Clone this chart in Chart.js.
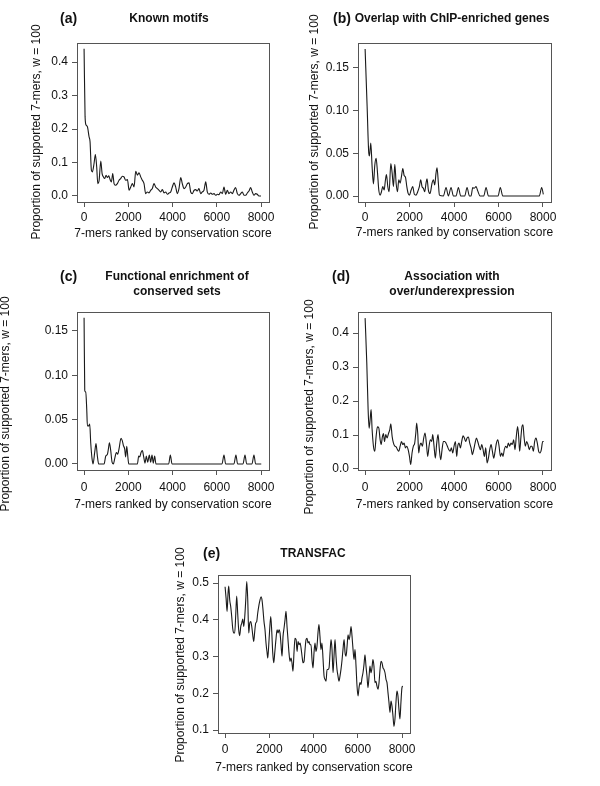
<!DOCTYPE html>
<html>
<head>
<meta charset="utf-8">
<script src="https://cdn.jsdelivr.net/npm/chart.js@4"></script>
<style>
  body { margin: 0; background: #fff; }
  #page { position: relative; width: 600px; height: 786px; overflow: hidden; }
  #page canvas { position: absolute; }
</style>
</head>
<body>
<div id="page"></div>
<script>
const xLabel = '7-mers ranked by conservation score';
const yLabel = 'Proportion of supported 7-mers, w = 100';
const rankTicks = [0, 2000, 4000, 6000, 8000];

// (a) Known motifs
const knownRank = [0,45,90,150,225,270,330,375,450,510,570,620,680,755,815,875,935,995,1055,1115,1175,1235,1295,1355,1415,1505,1580,1655,1730,1805,1880,1960,2035,2110,2185,2260,2335,2410,2485,2560,2635,2710,2785,2860,2935,3010,3085,3160,3235,3310,3390,3465,3540,3615,3690,3765,3840,3915,3990,4065,4140,4215,4290,4370,4440,4520,4595,4670,4745,4820,4895,4970,5045,5120,5195,5270,5345,5420,5500,5570,5650,5725,5800,5875,5950,6025,6100,6175,6250,6325,6400,6475,6550,6625,6700,6775,6850,6930,7005,7080,7155,7230,7305,7380,7455,7530,7605,7680,7755,7830,7905,8000];
const knownProp = [0.44,0.237,0.212,0.207,0.177,0.162,0.077,0.072,0.097,0.124,0.087,0.037,0.047,0.104,0.067,0.057,0.052,0.062,0.055,0.06,0.049,0.042,0.067,0.037,0.032,0.037,0.047,0.052,0.059,0.057,0.047,0.049,0.017,0.027,0.037,0.027,0.074,0.062,0.069,0.057,0.047,0.037,0.007,0.012,0.009,0.017,0.022,0.037,0.027,0.022,0.017,0.012,0.019,0.009,0.012,0.005,0.009,0.012,0.027,0.039,0.027,0.007,0.022,0.055,0.037,0.022,0.027,0.037,0.039,0.012,0.007,0.017,0.019,0.015,0.022,0.007,0.012,0.017,0.042,0.012,0.005,0.009,0.005,0.007,0.002,0.005,0.004,0.012,0.007,0.027,0.005,0.017,0.007,0.012,0.007,0.017,0.025,0.007,0.002,0.007,0.012,0.002,0.002,0.009,0.015,0.025,0.012,0.002,0.007,0.005,0,0];
const knownTicks = [0, 0.1, 0.2, 0.3, 0.4];

// (b) Overlap with ChIP-enriched genes
const chipRank = [0,90,165,195,255,315,375,435,495,555,615,675,735,795,855,915,960,1020,1080,1155,1215,1275,1335,1395,1455,1515,1575,1635,1695,1755,1815,1875,1935,1990,2070,2140,2215,2290,2365,2440,2500,2560,2620,2680,2740,2785,2845,2920,3010,3070,3130,3190,3235,3295,3340,3520,3640,3745,3865,3970,4090,4195,4300,4480,4585,4690,4765,4840,4900,4990,5065,5170,5335,5440,5545,5980,6080,6190,7835,7940,8015];
const chipProp = [0.172,0.105,0.05,0.047,0.062,0.034,0.014,0.036,0.044,0.028,0.007,0.001,0.005,0.011,0.007,0.019,0.025,0.011,0.005,0.038,0.027,0.011,0.037,0.015,0.005,0.019,0.015,0.023,0.032,0.024,0.022,0.011,0.003,0.001,0.007,0.011,0.002,0.001,0.005,0.011,0.019,0.011,0.009,0.005,0.015,0.02,0.007,0.003,0.015,0.019,0.013,0.027,0.033,0.015,0.001,0,0.01,0,0.01,0,0,0.01,0,0,0.01,0,0,0.01,0.009,0.011,0.006,0,0,0.01,0,0,0.01,0,0,0.01,0.002];
const chipTicks = [0, 0.05, 0.10, 0.15];

// (c) Functional enrichment of conserved sets
const funcRank = [0,30,75,120,150,210,255,300,360,405,480,540,600,660,905,980,1055,1100,1145,1205,1265,1325,1385,1460,1520,1580,1670,1730,1775,1835,1880,1930,1975,2020,2410,2470,2515,2575,2635,2695,2755,2815,2875,2950,3010,3070,3130,3190,3250,3825,3900,3975,6235,6325,6400,6775,6865,6940,7185,7275,7350,7590,7680,7755,8010];
const funcProp = [0.165,0.083,0.081,0.062,0.043,0.043,0.045,0.024,0.006,0,0.013,0.023,0.009,0,0,0.009,0.011,0.017,0.024,0.015,0.002,0,0.006,0.013,0.011,0.017,0.029,0.026,0.021,0.017,0.008,0.02,0.009,0,0,0.009,0.008,0.013,0.015,0.008,0.001,0.009,0.002,0.01,0.002,0.01,0.001,0.009,0,0,0.01,0,0,0.01,0,0,0.01,0,0,0.01,0,0,0.01,0,0];
const funcTicks = [0, 0.05, 0.10, 0.15];

// (d) Association with over/underexpression
const exprRank = [0,75,135,180,225,270,315,375,435,495,555,615,675,720,780,825,870,930,990,1050,1110,1155,1215,1275,1335,1395,1455,1515,1575,1635,1695,1755,1815,1875,1935,1995,2050,2110,2170,2230,2280,2320,2370,2410,2455,2515,2575,2635,2695,2755,2815,2875,2935,2995,3040,3100,3160,3220,3280,3340,3400,3460,3520,3580,3640,3700,3760,3820,3880,3940,4000,4060,4120,4165,4225,4285,4345,4405,4465,4525,4585,4645,4705,4765,4825,4885,4945,5005,5065,5125,5185,5245,5305,5365,5425,5485,5545,5605,5665,5725,5785,5845,5905,5965,6025,6085,6145,6200,6260,6320,6380,6440,6500,6560,6620,6680,6740,6800,6860,6905,6950,7010,7055,7100,7145,7205,7265,7325,7385,7445,7505,7565,7625,7685,7745,7805,7865,7925,7985,8030];
const exprProp = [0.444,0.312,0.175,0.12,0.145,0.175,0.116,0.067,0.052,0.096,0.124,0.121,0.086,0.072,0.096,0.104,0.081,0.101,0.091,0.104,0.116,0.133,0.096,0.076,0.067,0.065,0.057,0.052,0.067,0.081,0.072,0.076,0.062,0.067,0.057,0.037,0.013,0.047,0.067,0.076,0.106,0.135,0.101,0.047,0.067,0.076,0.067,0.091,0.106,0.076,0.037,0.067,0.086,0.081,0.101,0.067,0.032,0.076,0.101,0.057,0.027,0.057,0.081,0.081,0.076,0.067,0.057,0.052,0.062,0.047,0.067,0.081,0.037,0.067,0.076,0.062,0.081,0.098,0.091,0.081,0.091,0.094,0.076,0.062,0.042,0.057,0.076,0.091,0.081,0.067,0.057,0.072,0.057,0.037,0.062,0.018,0.032,0.057,0.072,0.052,0.032,0.052,0.076,0.086,0.067,0.037,0.047,0.037,0.057,0.067,0.062,0.076,0.067,0.076,0.072,0.086,0.057,0.096,0.125,0.096,0.052,0.096,0.125,0.13,0.096,0.067,0.081,0.072,0.057,0.067,0.067,0.052,0.081,0.091,0.076,0.052,0.047,0.057,0.081,0.081];
const exprTicks = [0, 0.1, 0.2, 0.3, 0.4];

// (e) TRANSFAC
const transRank = [0,45,90,135,165,210,255,300,345,390,435,485,525,570,615,660,710,755,800,845,890,935,980,1025,1070,1115,1160,1205,1250,1295,1340,1385,1430,1475,1520,1565,1625,1670,1715,1760,1805,1850,1900,1930,1970,2015,2065,2110,2155,2200,2245,2305,2350,2395,2440,2485,2530,2575,2620,2665,2710,2755,2800,2845,2890,2935,2980,3025,3070,3115,3160,3210,3255,3300,3345,3390,3435,3480,3525,3570,3615,3660,3705,3750,3795,3840,3885,3930,3975,4020,4065,4110,4155,4205,4245,4290,4335,4380,4430,4475,4520,4565,4610,4655,4700,4745,4790,4835,4880,4925,4970,5015,5060,5105,5150,5195,5240,5290,5330,5380,5425,5470,5515,5560,5605,5650,5695,5740,5785,5830,5875,5920,5965,6010,6055,6100,6145,6190,6235,6280,6325,6370,6415,6460,6510,6550,6595,6640,6685,6730,6775,6820,6865,6915,6960,7005,7050,7095,7140,7185,7230,7275,7320,7365,7410,7455,7500,7545,7590,7635,7680,7725,7770,7815,7860,7905,7950,7995,8030];
const transProp = [0.49,0.459,0.423,0.473,0.492,0.454,0.436,0.409,0.377,0.364,0.364,0.418,0.465,0.418,0.373,0.357,0.382,0.391,0.402,0.382,0.409,0.454,0.504,0.454,0.364,0.391,0.395,0.382,0.359,0.341,0.368,0.391,0.395,0.418,0.436,0.45,0.463,0.454,0.427,0.395,0.373,0.337,0.31,0.296,0.328,0.373,0.409,0.368,0.31,0.283,0.31,0.35,0.373,0.364,0.373,0.364,0.332,0.301,0.355,0.377,0.4,0.423,0.382,0.346,0.31,0.287,0.296,0.283,0.26,0.31,0.35,0.346,0.314,0.341,0.332,0.337,0.323,0.301,0.283,0.287,0.319,0.346,0.35,0.337,0.341,0.332,0.332,0.292,0.269,0.31,0.337,0.314,0.328,0.368,0.387,0.355,0.319,0.337,0.292,0.247,0.238,0.233,0.265,0.265,0.269,0.31,0.346,0.319,0.256,0.301,0.346,0.301,0.265,0.247,0.233,0.247,0.265,0.292,0.319,0.346,0.31,0.301,0.328,0.359,0.346,0.359,0.382,0.355,0.319,0.292,0.319,0.274,0.22,0.193,0.215,0.229,0.224,0.242,0.256,0.278,0.305,0.274,0.247,0.215,0.247,0.274,0.256,0.269,0.292,0.274,0.229,0.233,0.22,0.211,0.229,0.265,0.287,0.283,0.269,0.265,0.256,0.238,0.229,0.202,0.175,0.148,0.179,0.166,0.139,0.11,0.13,0.175,0.206,0.193,0.157,0.13,0.175,0.215,0.22];
const transTicks = [0.1, 0.2, 0.3, 0.4, 0.5];

const fontFamily = '"Liberation Sans", Arial, Helvetica, sans-serif';
const ink = '#111';
const frame = '#555';

Chart.defaults.font.family = fontFamily;
Chart.defaults.font.size = 12;
Chart.defaults.color = ink;

// box is [left, top, right, bottom] of the plot frame inside the canvas
const panels = [
  { letter: '(a)', title: ['Known motifs'], rank: knownRank, prop: knownProp, yTicks: knownTicks, yMin: -0.018, yMax: 0.457, dec: 1,
    left: 0, top: 0, width: 300, height: 290, box: [77, 43, 269, 202],
    letterX: 60, titleX: 169, headY: 19, yLabelX: 37, yLabelY: 132, xLabelGap: 32, tickPad: 3 },
  { letter: '(b)', title: ['Overlap with ChIP-enriched genes'], rank: chipRank, prop: chipProp, yTicks: chipTicks, yMin: -0.007, yMax: 0.179, dec: 2,
    left: 300, top: 0, width: 300, height: 290, box: [58, 43, 251, 202],
    letterX: 33, titleX: 152, headY: 19, yLabelX: 15, yLabelY: 122, xLabelGap: 31, tickPad: 3 },
  { letter: '(c)', title: ['Functional enrichment of', 'conserved sets'], rank: funcRank, prop: funcProp, yTicks: funcTicks, yMin: -0.0068, yMax: 0.1714, dec: 2,
    left: 0, top: 250, width: 300, height: 290, box: [77, 62, 269, 220],
    letterX: 60, titleX: 177, headY: 27, yLabelX: 6, yLabelY: 154, xLabelGap: 35, tickPad: 5 },
  { letter: '(d)', title: ['Association with', 'over/underexpression'], rank: exprRank, prop: exprProp, yTicks: exprTicks, yMin: -0.003, yMax: 0.462, dec: 1,
    left: 300, top: 250, width: 300, height: 290, box: [58, 62, 251, 220],
    letterX: 32, titleX: 152, headY: 27, yLabelX: 10, yLabelY: 157, xLabelGap: 35, tickPad: 5 },
  { letter: '(e)', title: ['TRANSFAC'], rank: transRank, prop: transProp, yTicks: transTicks, yMin: 0.092, yMax: 0.522, dec: 1,
    left: 150, top: 500, width: 300, height: 286, box: [68, 75, 260, 233],
    letterX: 53, titleX: 163, headY: 54, yLabelX: 31, yLabelY: 155, xLabelGap: 35, tickPad: 4 }
];

const panelText = {
  id: 'panelText',
  afterDraw(chart, args, opts) {
    const ctx = chart.ctx;
    const area = chart.chartArea;
    ctx.save();
    ctx.strokeStyle = frame;
    ctx.lineWidth = 1;
    ctx.strokeRect(Math.round(area.left) + 0.5, Math.round(area.top) + 0.5,
      Math.round(area.right - area.left), Math.round(area.bottom - area.top));

    ctx.fillStyle = ink;
    ctx.textBaseline = 'middle';
    ctx.textAlign = 'left';
    ctx.font = 'bold 14px ' + fontFamily;
    ctx.fillText(opts.letter, opts.letterX, opts.headY);

    ctx.textAlign = 'center';
    ctx.font = 'bold 12px ' + fontFamily;
    opts.title.forEach((line, i) => ctx.fillText(line, opts.titleX, opts.headY + i * 15));

    ctx.font = '12px ' + fontFamily;
    ctx.fillText(xLabel, (area.left + area.right) / 2, area.bottom + opts.xLabelGap);

    ctx.translate(opts.yLabelX, opts.yLabelY);
    ctx.rotate(-Math.PI / 2);
    ctx.fillText(yLabel, 0, 0);
    ctx.restore();
  }
};

const page = document.getElementById('page');

panels.forEach(p => {
  const canvas = document.createElement('canvas');
  canvas.width = p.width;
  canvas.height = p.height;
  canvas.style.left = p.left + 'px';
  canvas.style.top = p.top + 'px';
  page.appendChild(canvas);

  const tickGrid = { display: true, drawOnChartArea: false, drawTicks: true, tickLength: 5, color: frame, lineWidth: 1 };

  new Chart(canvas, {
    type: 'line',
    data: {
      datasets: [{
        data: p.rank.map((r, i) => ({ x: r, y: p.prop[i] })),
        borderColor: '#1a1a1a',
        borderWidth: 1.1,
        pointRadius: 0,
        fill: false,
        cubicInterpolationMode: 'monotone'
      }]
    },
    options: {
      responsive: false,
      animation: false,
      events: [],
      layout: { padding: { left: 0, top: p.box[1], right: p.width - p.box[2], bottom: 0 } },
      plugins: {
        legend: { display: false },
        tooltip: { enabled: false },
        panelText: {
          letter: p.letter, title: p.title, letterX: p.letterX, titleX: p.titleX, headY: p.headY,
          yLabelX: p.yLabelX, yLabelY: p.yLabelY, xLabelGap: p.xLabelGap
        }
      },
      scales: {
        x: {
          type: 'linear',
          min: -320,
          max: 8360,
          afterBuildTicks: s => { s.ticks = rankTicks.map(v => ({ value: v })); },
          afterFit: s => { s.height = p.height - p.box[3]; },
          grid: tickGrid,
          border: { display: false },
          ticks: { autoSkip: false, maxRotation: 0, padding: p.tickPad, color: ink, callback: v => String(v) }
        },
        y: {
          type: 'linear',
          min: p.yMin,
          max: p.yMax,
          afterBuildTicks: s => { s.ticks = p.yTicks.map(v => ({ value: v })); },
          afterFit: s => { s.width = p.box[0]; },
          grid: tickGrid,
          border: { display: false },
          ticks: { autoSkip: false, padding: 4, color: ink, callback: v => v.toFixed(p.dec) }
        }
      }
    },
    plugins: [panelText]
  });
});
</script>
</body>
</html>
